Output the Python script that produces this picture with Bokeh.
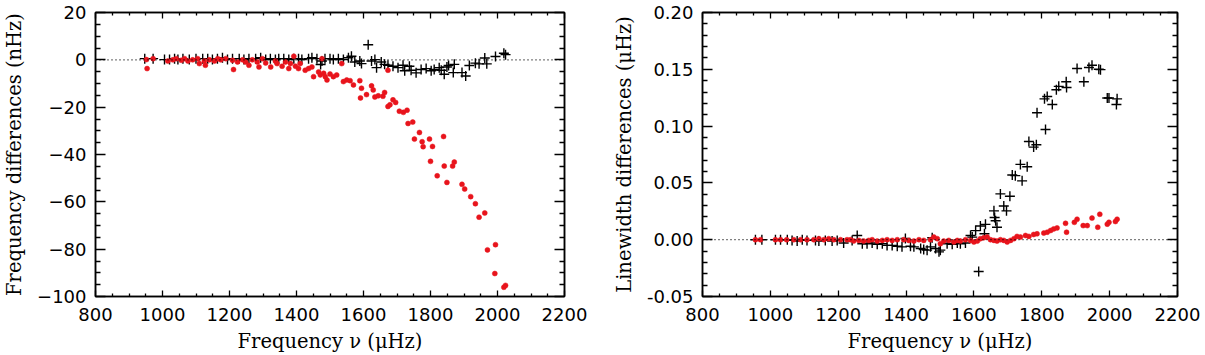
from bokeh.plotting import figure
from bokeh.layouts import row
from bokeh.models import (Range1d, FixedTicker, LinearAxis, Span, PrintfTickFormatter,
                          CustomLabelingPolicy)
from bokeh.embed import file_html
from bokeh.resources import INLINE

# ---------------- data ----------------
# Left panel: frequency differences (nHz)
left_black_f = [947, 972, 1006, 1021, 1036, 1046, 1061, 1080, 1100, 1120, 1135, 1149, 1164, 1179,
                1194, 1209, 1229, 1243, 1258, 1278, 1293, 1308, 1322, 1337, 1347, 1362, 1377, 1392,
                1406, 1416, 1436, 1446, 1461, 1472, 1476, 1485, 1500, 1510, 1525, 1540, 1555, 1564,
                1574, 1589, 1594, 1614, 1624, 1634, 1639, 1653, 1663, 1673, 1688, 1703, 1718, 1723,
                1737, 1742, 1757, 1772, 1787, 1802, 1811, 1826, 1832, 1841, 1849, 1854, 1871, 1868,
                1894, 1905, 1916, 1934, 1945, 1962, 1968, 1994, 2019, 2024]
left_black_v = [0.5, 0.5, 0.1, 0.1, 0.5, 0.1, 0.5, 0.1, 0.5, 0.5, 0.5, 0.1, 0.5, 0.9,
                0.1, 0.5, 0.5, 0.1, 0.5, 0.5, 0.9, 0.1, 0.5, 0.1, 0.5, 0.5, 0.1, 0.5,
                0.5, 0.1, 0.5, 0.9, 0.5, -2.0, -0.5, 0.5, 0.5, 0.1, 0.5, 0.1, 0.9, 1.5,
                -0.9, -0.5, -1.6, 6.4, -0.5, 0.1, -3.3, -0.9, -1.9, -2.3, -2.7, -3.3, -2.3, -4.6,
                -2.7, -4.4, -5.5, -4.1, -3.7, -4.6, -4.1, -3.3, -4.4, -6.1, -3.0, -2.4, -1.9, -5.4,
                -5.4, -6.8, -2.4, -1.4, -1.7, 0.8, -1.7, 1.4, 2.8, 2.2]

left_red_f = [952, 954, 972, 1016, 1031, 1041, 1056, 1066, 1076, 1090, 1105, 1110, 1125, 1128,
              1140, 1155, 1165, 1174, 1189, 1209, 1212, 1224, 1239, 1248, 1258, 1268, 1283, 1288,
              1298, 1308, 1323, 1337, 1342, 1357, 1367, 1377, 1382, 1392, 1397, 1406, 1411, 1426,
              1436, 1446, 1451, 1466, 1471, 1476, 1481, 1486, 1491, 1500, 1510, 1520, 1535, 1540,
              1550, 1560, 1570, 1589, 1594, 1591, 1609, 1624, 1629, 1634, 1644, 1658, 1663, 1673,
              1673, 1679, 1688, 1696, 1707, 1719, 1730, 1733, 1747, 1752, 1767, 1775, 1778, 1797,
              1800, 1806, 1820, 1839, 1841, 1849, 1866, 1871, 1894, 1902, 1920, 1934, 1945, 1962,
              1970, 1994, 1992, 2019, 2024]
left_red_v = [0.1, -3.7, 0.5, -0.5, 0.0, 0.5, -0.2, 0.5, -0.5, 0.0, 0.5, -1.6, -0.5, -2.3,
              0.0, -0.5, 0.5, 0.0, 0.5, -0.2, -4.1, -0.9, 0.0, -0.9, -2.3, 0.0, -0.9, -3.0,
              0.5, -1.3, -3.0, -0.5, -1.6, -2.7, -0.9, -3.7, -1.6, 1.5, -2.7, -3.7, -1.6, -4.4,
              -3.7, -3.0, -7.1, -5.1, -6.4, 0.5, -5.7, -7.1, -8.5, -6.0, -7.1, -6.4, -1.6, -9.2,
              -8.5, -8.8, -10.6, -8.8, -12.0, -16.1, -14.7, -11.0, -12.7, -15.7, -15.2, -15.4, -13.8, -4.4,
              -19.7, -19.0, -16.9, -18.0, -21.7, -22.2, -21.3, -26.9, -26.3, -33.5, -30.7, -34.6, -36.7, -33.5,
              -42.9, -36.6, -49.0, -32.4, -44.9, -51.8, -44.9, -43.2, -52.6, -54.6, -57.8, -60.8, -66.5, -64.7,
              -80.3, -78.1, -90.3, -96.1, -95.3]

# Right panel: linewidth differences (uHz)
right_black_f = [956, 975, 1015, 1030, 1050, 1064, 1079, 1094, 1108, 1133, 1143, 1162, 1182, 1197,
                 1216, 1241, 1256, 1271, 1285, 1300, 1315, 1330, 1344, 1359, 1374, 1388, 1398, 1413,
                 1423, 1443, 1452, 1462, 1472, 1477, 1487, 1497, 1501, 1521, 1536, 1551, 1560, 1575,
                 1590, 1595, 1605, 1614, 1619, 1631, 1634, 1659, 1661, 1664, 1668, 1678, 1688, 1696,
                 1706, 1713, 1722, 1737, 1742, 1757, 1762, 1776, 1784, 1786, 1811, 1808, 1816, 1831,
                 1843, 1850, 1872, 1873, 1904, 1924, 1939, 1948, 1968, 1973, 1993, 1998, 2020, 2022]
right_black_v = [0.0, 0.0, 0.0, 0.0, 0.0, -0.0006, -0.0012, 0.0, -0.0006, -0.0006, -0.0012, -0.0006, -0.0012, -0.0006,
                 -0.0029, -0.0006, 0.0037, -0.0035, -0.0035, -0.0029, -0.004, -0.0035, -0.005, -0.005, -0.0058, -0.0063, 0.001, -0.0058,
                 -0.0063, -0.0078, -0.0087, -0.0092, -0.0063, 0.0017, -0.0078, -0.0107, -0.0092, -0.0035, -0.004, -0.0029, -0.0035, -0.0029,
                 0.0037, 0.0023, 0.008, -0.028, 0.012, 0.0052, 0.0135, 0.0254, 0.0196, 0.0167, 0.011, 0.0403, 0.0297, 0.0254,
                 0.0383, 0.057, 0.0564, 0.0663, 0.0518, 0.0642, 0.0864, 0.0815, 0.0836, 0.1118, 0.097, 0.124, 0.126, 0.119,
                 0.132, 0.135, 0.139, 0.134, 0.1507, 0.139, 0.1516, 0.1536, 0.150, 0.1497, 0.1248, 0.1247, 0.119, 0.124]

right_red_f = [956, 971, 1015, 1030, 1048, 1069, 1089, 1108, 1128, 1143, 1158, 1172, 1187, 1207,
               1226, 1236, 1246, 1261, 1275, 1290, 1300, 1315, 1330, 1344, 1359, 1374, 1393, 1408,
               1423, 1438, 1452, 1472, 1482, 1492, 1501, 1511, 1526, 1541, 1551, 1560, 1575, 1590,
               1600, 1610, 1619, 1629, 1639, 1649, 1659, 1668, 1678, 1688, 1698, 1708, 1718, 1727,
               1737, 1752, 1762, 1776, 1786, 1806, 1816, 1826, 1835, 1845, 1870, 1873, 1896, 1904,
               1922, 1934, 1948, 1965, 1971, 1993, 1998, 2017, 2022]
right_red_v = [0.0, 0.0, 0.0, 0.0, 0.0, 0.0, 0.0, 0.0, 0.0, 0.0009, 0.0, 0.0009, 0.0, 0.0,
               0.0, 0.0, -0.0012, -0.0006, -0.0012, -0.0006, 0.0, -0.0012, -0.0006, 0.0, -0.0006, 0.0, 0.0, -0.0006,
               -0.0012, 0.0, -0.0006, 0.0, 0.0023, 0.0009, -0.0035, -0.0012, -0.0006, -0.002, -0.0006, -0.0012, 0.0, -0.0006,
               -0.002, -0.0012, 0.0009, 0.0017, 0.0023, 0.0, -0.0006, -0.0012, 0.0, -0.0006, -0.002, -0.0006, 0.0009, 0.0029,
               0.0023, 0.0037, 0.0029, 0.0046, 0.0052, 0.0058, 0.0066, 0.0081, 0.0095, 0.0104, 0.0144, 0.0066, 0.0153, 0.018,
               0.0124, 0.0124, 0.019, 0.011, 0.0224, 0.0137, 0.0153, 0.016, 0.018]

x_ticks = [800, 1000, 1200, 1400, 1600, 1800, 2000, 2200]
left_y_ticks = [-100, -80, -60, -40, -20, 0, 20]
right_y_ticks = [-0.05, 0.00, 0.05, 0.10, 0.15, 0.20]

x_title = "Frequency ν (μHz)"
left_y_title = "Frequency differences (nHz)"
right_y_title = "Linewidth differences (μHz)"

RED = "#e8141c"
TICK_FONT = "DejaVu Sans"
TITLE_FONT = "DejaVu Serif"


def minor_from(ticks, n):
    out = []
    for a, b in zip(ticks[:-1], ticks[1:]):
        step = (b - a) / n
        for k in range(1, n):
            out.append(a + k * step)
    return out


def style_axis(ax, major_in, minor_in):
    ax.major_tick_in = major_in
    ax.major_tick_out = 0
    ax.minor_tick_in = minor_in
    ax.minor_tick_out = 0
    ax.axis_line_color = "black"
    ax.axis_line_width = 1.5
    ax.major_tick_line_color = "black"
    ax.minor_tick_line_color = "black"
    ax.major_tick_line_width = 1.3
    ax.minor_tick_line_width = 1.3
    ax.major_label_text_font = TICK_FONT
    ax.major_label_text_font_size = "18px"
    ax.major_label_text_color = "black"
    ax.axis_label_text_font = TITLE_FONT
    ax.axis_label_text_font_size = "19.5px"
    ax.axis_label_text_font_style = "normal"
    ax.axis_label_text_color = "black"


def mirror_axis(ticker, major_in, minor_in):
    ax = LinearAxis(ticker=ticker)
    style_axis(ax, major_in, minor_in)
    ax.major_label_policy = CustomLabelingPolicy(code="")
    ax.major_label_text_font_size = "1px"
    ax.major_label_standoff = 0
    return ax


def make_panel(width, border_left, border_right, yr, yticks, yminor_n, ytitle, bf, bv, rf, rv, yfmt=None):
    p = figure(width=width, height=355, output_backend="svg", toolbar_location=None,
               x_range=Range1d(800, 2200), y_range=Range1d(*yr),
               min_border_left=border_left, min_border_right=border_right,
               min_border_top=12, min_border_bottom=58, x_axis_location=None, y_axis_location=None)
    p.grid.visible = False
    p.outline_line_color = "black"
    p.outline_line_width = 1.5
    p.background_fill_color = "white"
    p.border_fill_color = "white"

    xt = FixedTicker(ticks=x_ticks, minor_ticks=minor_from(x_ticks, 4))
    yt = FixedTicker(ticks=yticks, minor_ticks=minor_from(yticks, yminor_n))

    xb = LinearAxis(ticker=xt, axis_label=x_title)
    style_axis(xb, 6, 3)
    xb.major_label_standoff = 11
    xb.axis_label_standoff = 6
    p.add_layout(xb, "below")
    p.add_layout(mirror_axis(xt, 6, 3), "above")

    yl = LinearAxis(ticker=yt, axis_label=ytitle)
    style_axis(yl, 10, 5)
    yl.major_label_standoff = 9
    yl.axis_label_standoff = 8
    if yfmt is not None:
        yl.formatter = yfmt
    p.add_layout(yl, "left")
    p.add_layout(mirror_axis(yt, 10, 5), "right")

    p.add_layout(Span(location=0, dimension="width", line_color="black",
                      line_width=1.2, line_dash="1 3"))

    p.scatter(bf, bv, marker="cross", size=10, line_color="black", line_width=1.4)
    p.scatter(rf, rv, marker="circle", size=5, fill_color=RED, line_color=RED, line_width=0.5)
    return p


p1 = make_panel(600, 92, 36, (-100, 20), left_y_ticks, 4, left_y_title,
                left_black_f, left_black_v, left_red_f, left_red_v)
p2 = make_panel(605, 102, 28, (-0.05, 0.20), right_y_ticks, 5, right_y_title,
                right_black_f, right_black_v, right_red_f, right_red_v,
                yfmt=PrintfTickFormatter(format="%.2f"))

layout = row(p1, p2)
open("out.html", "w").write(file_html(layout, INLINE))
